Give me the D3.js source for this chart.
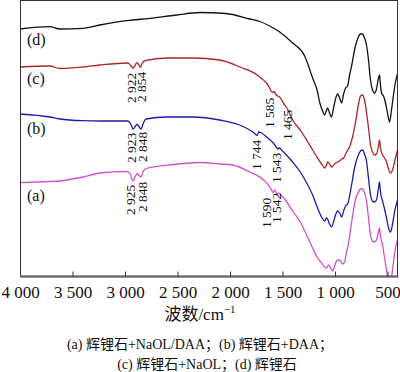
<!DOCTYPE html>
<html>
<head>
<meta charset="utf-8">
<script src="https://cdn.jsdelivr.net/npm/d3@7/dist/d3.min.js"></script>
<style>
html,body{margin:0;padding:0;background:#fff;}
svg{display:block;}
</style>
</head>
<body>
<svg id="chart" width="400" height="372"></svg>
<script>
// ---------- DATA (wavenumber cm^-1, offset transmittance a.u.) ----------
const seriesNames = ["(a)", "(b)", "(c)", "(d)"];
const xTicks = [4000, 3500, 3000, 2500, 2000, 1500, 1000, 500];
const xTickLabels = ["4 000", "3 500", "3 000", "2 500", "2 000", "1 500", "1 000", "500"];

const dWn = [4000,3715,3620,3401,3239,2982,2763,2507,2288,2041,1812,1717,1622,1527,1403,1289,1213,1166,1147,1118,1099,1080,1071,1052,1033,1014,995,975,956,937,918,899,880,861,842,814,785,757,738,719,700,681,662,643,624,605,586,576,567,557,538,519,500,481,462,443,424,405];
const dVal = [247,249.3,247,247.7,251,255.3,257.7,261,263.5,262.5,257,254.5,250,244,233,220,198,184,174,165,161,166,168,163,159,168,177,182,178,173,182,188,190,201,210,226,237,242,242,238,231,216,196,186,183,187,198,201,191,183,180,173,163,154,166,181,194,202];

const cWn = [4000,3715,3620,3401,3239,2973,2945,2922,2900,2885,2870,2854,2835,2810,2602,2355,2098,1908,1717,1622,1610,1592,1580,1560,1527,1480,1465,1440,1403,1318,1270,1213,1166,1128,1099,1080,1071,1052,1033,1004,975,956,937,918,890,861,833,804,776,757,738,719,700,681,662,643,624,605,586,576,567,547,528,509,490,471,452,433,405];
const cVal = [209,210,207.5,209,211,213,210.5,207.7,211.5,213.3,211.5,208.7,213,215.3,218,218,216,209,199,188,185,183.5,184.5,181,179,171,169,164,156,144,136,126,118,112,108,111,114,112,109,112,114,115,117,118,124,129,139,154,172,180,181,176,164,148,131,124,121,122,130,136,128,121,118,114,107,103,106,114,126];

const bWn = [4000,3715,3620,3401,3239,2973,2945,2923,2900,2885,2870,2848,2825,2800,2602,2355,2098,1908,1812,1760,1744,1725,1700,1650,1580,1560,1543,1530,1500,1403,1318,1270,1213,1166,1128,1099,1080,1071,1052,1033,1014,995,975,956,937,918,899,880,861,842,814,785,757,738,719,700,681,662,643,624,605,586,576,567,547,528,509,490,471,452,433,405];
const bVal = [162,159,157,155.3,155,155,152,147,150,151.5,150,147,153,157,159,159,156,151,146,142,140.5,144,143,139,132,129,127,128,125,114,102,93,81,68,59,55,58,57,52,49,54,61,65,63,59,65,70,72,80,91,108,119,125,126,122,115,98,81,75,74,76,88,94,84,75,67,58,48,44,52,64,76];

const aWn = [4000,3715,3620,3401,3239,2982,2950,2925,2900,2885,2870,2848,2825,2800,2536,2288,2098,1974,1812,1679,1622,1600,1590,1575,1560,1550,1542,1525,1480,1403,1337,1270,1213,1166,1128,1099,1080,1061,1042,1023,1004,985,966,947,928,909,890,871,852,833,804,776,757,738,719,700,681,662,643,624,605,586,576,567,547,528,509,490,481,462,443,424,405];
const aVal = [93.3,94.5,95,99,103,104.5,102,95,100,102.5,101,99,105,107.5,111.5,113.5,112,111,104,96,89,85,83.5,86,83,81,83,82,77,65,55,41,28,18,13,9,8,11,8,5,10,15,16,15,12,14,24,33,46,60,77,84,87,87,83,75,58,41,35,34,36,44,48,40,31,18,6,-6,-8,-2,14,28,36];

// peak annotations: text, wavenumber, value at start of (rotated) text
const annText = ["2 922","2 854","2 923","2 848","2 925","2 848","1 585","1 465","1 744","1 543","1 590","1 542"];
const annWn   = [2940,2844,2944,2840,2954,2840,1622,1456,1746,1556,1651,1556];
const annVal  = [173,174,113,114,61,64,148,136,106,93,48,53];

// series labels positions in data space
const labelWn = [3933,3933,3933,3933];
const labelVal = [75,142,192,231];

const captionLines = ["(a)  辉锂石+NaOL/DAA；(b)  辉锂石+DAA；", "(c)  辉锂石+NaOL；(d)  辉锂石"];
const xTitle = "波数/cm";

// ---------- STYLE ----------
const colors = {"(a)":"#d050d0","(b)":"#1c1ca8","(c)":"#b02428","(d)":"#111111"};
const serif = "'Liberation Serif','Times New Roman','Noto Sans CJK SC',serif";

const svg = d3.select("#chart");
const pL = 20, pR = 397, pT = 1, pB = 276;

const x = d3.scaleLinear().domain([4000, 400]).range([pL, 398]);
const y = d3.scaleLinear().domain([0, 275]).range([pB, pT]);

const series = {
  "(a)": aWn.map((w,i)=>[w,aVal[i]]),
  "(b)": bWn.map((w,i)=>[w,bVal[i]]),
  "(c)": cWn.map((w,i)=>[w,cVal[i]]),
  "(d)": dWn.map((w,i)=>[w,dVal[i]])
};

svg.append("defs").append("clipPath").attr("id","clip")
  .append("rect").attr("x",pL).attr("y",pT).attr("width",pR-pL).attr("height",pB-pT);

const line = d3.line().x(d=>x(d[0])).y(d=>y(d[1])).curve(d3.curveMonotoneX);

const g = svg.append("g").attr("clip-path","url(#clip)");
seriesNames.forEach(n=>{
  g.append("path").datum(series[n]).attr("d",line)
    .attr("fill","none").attr("stroke",colors[n]).attr("stroke-width",1.3)
    .attr("stroke-linejoin","round");
});

// frame
svg.append("rect").attr("x",pL+0.5).attr("y",pT-0.5).attr("width",pR-pL).attr("height",pB-pT+0.5)
  .attr("fill","none").attr("stroke","#333").attr("stroke-width",1);

// x axis
const ax = d3.axisBottom(x).tickValues(xTicks).tickSizeInner(-5).tickSizeOuter(0)
  .tickFormat((d,i)=>xTickLabels[i]);
const axg = svg.append("g").attr("transform",`translate(0,${pB+0.5})`).call(ax);
axg.select(".domain").attr("stroke","#333");
axg.selectAll(".tick line").attr("stroke","#333");
axg.selectAll(".tick text").attr("font-family",serif).attr("font-size",17).attr("fill","#111")
  .attr("dy",null).attr("y",21.5);

// axis title
const t = svg.append("text").attr("x",200).attr("y",320).attr("text-anchor","middle")
  .attr("font-family",serif).attr("font-size",17).attr("fill","#111");
t.append("tspan").text(xTitle);
t.append("tspan").attr("dy",-7).attr("font-size",11).text("−1");

// series labels
seriesNames.forEach((n,i)=>{
  svg.append("text").attr("x",x(labelWn[i])).attr("y",y(labelVal[i]))
    .attr("font-family",serif).attr("font-size",16).attr("fill","#111").text(n);
});

// annotations
annText.forEach((s,i)=>{
  const ax0 = x(annWn[i]), ay0 = y(annVal[i]);
  svg.append("text").attr("transform",`translate(${ax0},${ay0}) rotate(-90)`)
    .attr("dy","0.35em").attr("font-family",serif).attr("font-size",13.5).attr("fill","#111").text(s);
});

// caption
captionLines.forEach((s,i)=>{
  svg.append("text").attr("x",i===0?200:207).attr("y",349+i*20).attr("text-anchor","middle")
    .attr("font-family",serif).attr("font-size",14).attr("fill","#111").text(s);
});
</script>
</body>
</html>
